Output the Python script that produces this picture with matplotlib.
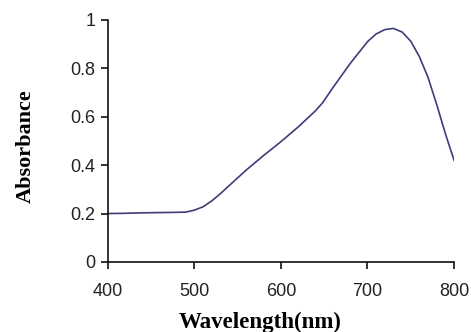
import matplotlib
matplotlib.use("Agg")
import matplotlib.pyplot as plt

wavelength = [400, 420, 440, 460, 480, 490, 500, 510, 520, 530, 540, 560, 580, 600,
              620, 640, 648, 660, 680, 700, 710, 720, 730, 740, 750, 760, 770, 780, 790, 800]
absorbance = [0.200, 0.201, 0.203, 0.204, 0.205, 0.206, 0.214, 0.228, 0.252, 0.282, 0.315,
              0.380, 0.440, 0.497, 0.558, 0.625, 0.657, 0.720, 0.820, 0.910, 0.942, 0.960,
              0.965, 0.950, 0.912, 0.848, 0.762, 0.650, 0.530, 0.420]

x_ticks = [400, 500, 600, 700, 800]
x_labels = ["400", "500", "600", "700", "800"]
y_ticks = [0, 0.2, 0.4, 0.6, 0.8, 1.0]
y_labels = ["0", "0.2", "0.4", "0.6", "0.8", "1"]

fig = plt.figure(figsize=(4.71, 3.32), dpi=100)
ax = fig.add_axes([0.229, 0.211, 0.735, 0.729])
ax.plot(wavelength, absorbance, color="#3d3d7a", lw=1.2)

ax.set_xlim(400, 800)
ax.set_ylim(0, 1)
ax.set_xticks(x_ticks)
ax.set_xticklabels(x_labels)
ax.set_yticks(y_ticks)
ax.set_yticklabels(y_labels)
for s in ["top", "right"]:
    ax.spines[s].set_visible(False)
for s in ["left", "bottom"]:
    ax.spines[s].set_linewidth(1.2)
    ax.spines[s].set_color("#111111")
ax.tick_params(axis="both", direction="out", width=1.2, color="#111111",
               labelsize=13, labelcolor="#222222")
ax.tick_params(axis="x", length=5, pad=10)
ax.tick_params(axis="y", length=5, pad=4)
for lab in ax.get_xticklabels() + ax.get_yticklabels():
    lab.set_family("Liberation Sans")

ax.set_xlabel("Wavelength(nm)", family="Liberation Serif", fontweight="bold",
              fontsize=16.5)
ax.xaxis.set_label_coords(0.44, -0.205)
ax.set_ylabel("Absorbance", family="Liberation Serif", fontweight="bold",
              fontsize=16)
ax.yaxis.set_label_coords(-0.207, 0.48)

fig.savefig("out.png", dpi=100)
